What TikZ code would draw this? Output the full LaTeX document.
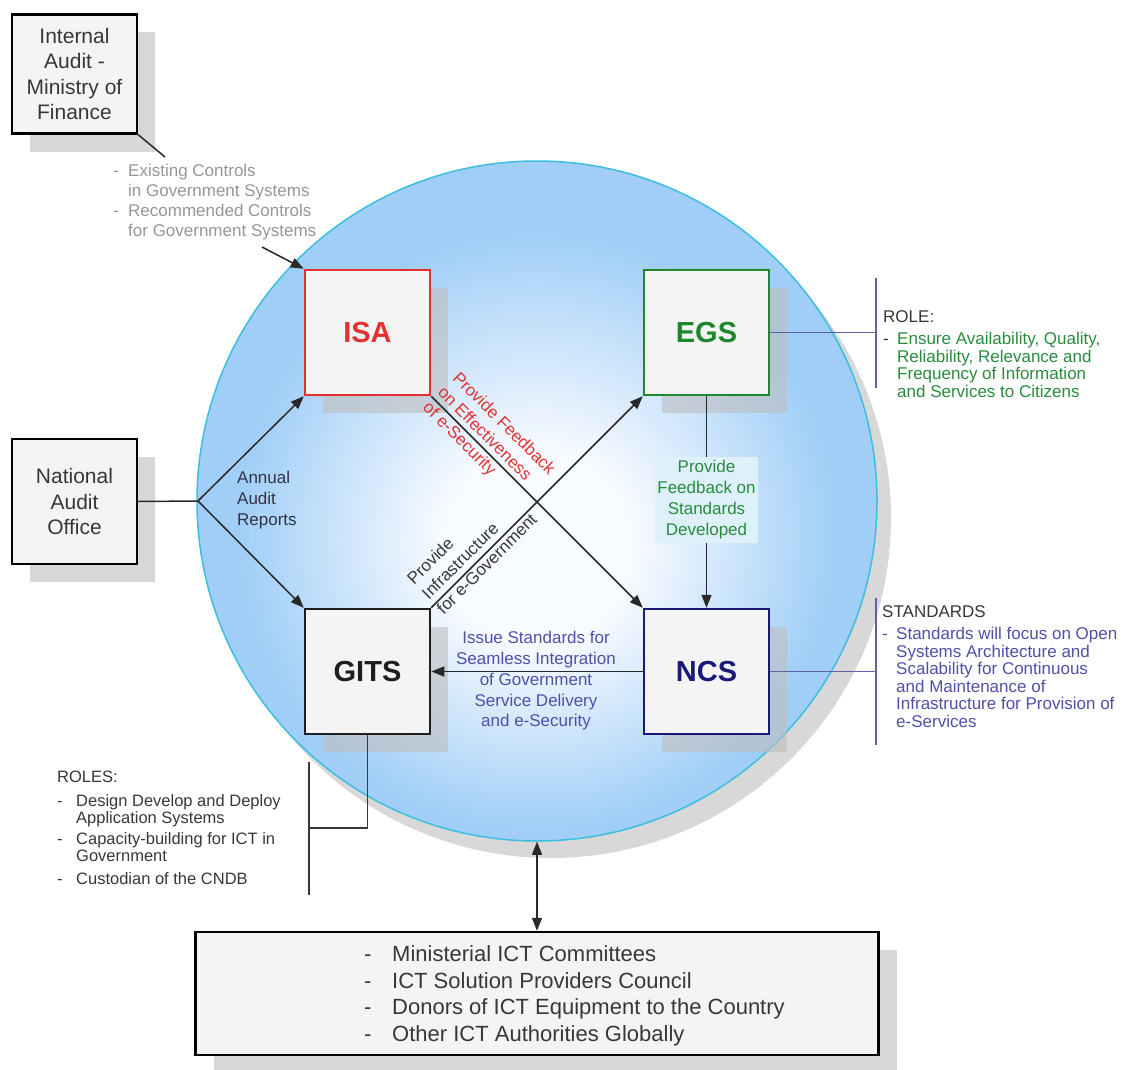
\documentclass[tikz,border=0pt]{standalone}
\usepackage{fontspec}
\setmainfont{Liberation Sans}
\usepackage{array}
\usetikzlibrary{arrows.meta,shadows}

\definecolor{boxfill}{RGB}{244,244,244}
\definecolor{isared}{RGB}{228,48,48}
\definecolor{egsgreen}{RGB}{30,135,45}
\definecolor{ncsblue}{RGB}{25,25,120}
\definecolor{gitsblack}{RGB}{30,30,30}
\definecolor{conn}{RGB}{40,40,40}
\definecolor{brpurple}{RGB}{95,95,165}
\definecolor{graytext}{RGB}{150,150,150}
\definecolor{greentext}{RGB}{40,140,60}
\definecolor{bluetext}{RGB}{80,80,170}
\definecolor{redtext}{RGB}{225,50,50}
\definecolor{darktext}{RGB}{50,50,70}
\definecolor{notedark}{RGB}{55,55,55}
\definecolor{circedge}{RGB}{60,190,225}
\definecolor{cc0}{RGB}{248,251,255}
\definecolor{cc1}{RGB}{160,206,247}
\definecolor{shadowgray}{RGB}{190,190,190}
\definecolor{fbfill}{RGB}{222,241,251}

\newcommand{\dsh}[1]{\makebox[#1][l]{-}}

\pgfdeclareradialshading{bluecirc}{\pgfpoint{0bp}{-4bp}}{color(0bp)=(cc0); color(7bp)=(cc0); color(22bp)=(cc1); color(50bp)=(cc1)}

\begin{document}
\begin{tikzpicture}[x=1pt,y=-1pt,
  arr/.style={-{Triangle[length=13pt,width=10pt]}},
  darr/.style={{Triangle[length=13pt,width=10pt]}-{Triangle[length=13pt,width=10pt]}},
  conline/.style={draw=conn, line width=1.5pt},
  brline/.style={draw=brpurple, line width=1.5pt},
  shadowed/.style={drop shadow={shadow xshift=18pt, shadow yshift=-18pt, fill=shadowgray, opacity=0.6}},
  sqbox/.style={draw, line width=2.5pt, fill=boxfill, minimum width=125pt, minimum height=125pt, inner sep=0pt, shadowed},
  title/.style={font=\fontsize{29}{32}\selectfont\bfseries},
  lbl/.style={font=\fontsize{17}{21}\selectfont, inner sep=0pt},
  note/.style={font=\fontsize{17}{17.5}\selectfont, inner sep=0pt, anchor=north west}
]
\useasboundingbox (0,0) rectangle (1137,1070);

% big circle
\node[circle, minimum size=680pt, inner sep=0pt, draw=circedge, line width=1.5pt,
      shading=bluecirc, drop shadow={shadow xshift=14pt, shadow yshift=-17pt, fill=shadowgray, opacity=0.6}]
      (circ) at (537,501) {};

% boxes
\node[sqbox, minimum height=119pt, align=center, font=\fontsize{21}{25.5}\selectfont, text=notedark]
   (ia) at (74.5,74) {Internal\\Audit -\\Ministry of\\Finance};
\node[sqbox, align=center, font=\fontsize{21}{25.5}\selectfont, text=notedark]
   (nao) at (74.5,501.5) {National\\Audit\\Office};
\node[sqbox, draw=isared, title, text=isared] (isa) at (367.5,332.5) {ISA};
\node[sqbox, draw=egsgreen, title, text=egsgreen] (egs) at (706.5,332.5) {EGS};
\node[sqbox, draw=gitsblack, title, text=gitsblack] (gits) at (367.5,671.5) {GITS};
\node[sqbox, draw=ncsblue, title, text=ncsblue] (ncs) at (706.5,671.5) {NCS};
\node[draw, line width=2.5pt, fill=boxfill, minimum width=683pt, minimum height=123pt, inner sep=0pt, shadowed]
   (bottom) at (537,993.5) {};

% internal audit callout
\coordinate (iaend) at (165,157);
\coordinate (ctrlend) at (262,247);
\draw[conline] (ia.south east) -- (iaend);
\node[inner sep=0pt, anchor=north west, font=\fontsize{17}{20}\selectfont, text=graytext] (ctrl) at (113,162)
  {\begin{tabular}{@{}l@{}l@{}}\dsh{15pt}&Existing Controls\\&in Government Systems\\\dsh{15pt}&Recommended Controls\\&for Government Systems\end{tabular}};
\draw[conline, arr] (ctrlend) -- (isa.north west);

% national audit office fork
\coordinate (fork) at (198,501);
\draw[conline] (nao.east) -- (fork);
\draw[conline, arr] (fork) -- (isa.south west);
\draw[conline, arr] (fork) -- (gits.north west);
\node[lbl, anchor=west, align=left, text=darktext] (annual) at (237,500) {Annual\\Audit\\Reports};

% diagonals
\draw[conline, arr] (isa.south east) -- (ncs.north west);
\node[lbl, rotate=-45, anchor=west, align=left, text=redtext] (fbsec) at (440,390.6)
  {Provide Feedback\\on Effectiveness\\of e-Security};
\draw[conline, arr] (gits.north east) -- (egs.south west);
\node[lbl, rotate=45, anchor=west, align=left, text=notedark] (infra) at (424.5,596.1)
  {Provide\\Infrastructure\\for e-Government};

% EGS -> NCS
\node[lbl, fill=fbfill, minimum width=103pt, minimum height=86pt, align=center, text=greentext] (fb) at (706.5,500)
  {Provide\\Feedback on\\Standards\\Developed};
\draw[conline] (egs.south) -- (fb.north);
\draw[conline, arr] (fb.south) -- (ncs.north);

% NCS -> GITS
\draw[conline, arr] (ncs.west) -- (gits.east);
\node[lbl, font=\fontsize{17}{20.75}\selectfont, align=center, text=bluetext] (issue) at (536,681)
  {Issue Standards for\\Seamless Integration\\of Government\\Service Delivery\\and e-Security};

% EGS role bracket
\coordinate (rtop) at (876,278);
\coordinate (rbot) at (876,388);
\draw[brline] (rtop) -- (rbot);
\draw[brline] (egs.east) -- (egs.east -| rtop);
\node[note] (roletxt) at (883,310)
  {\begin{tabular}{@{}>{\color{notedark}}l@{}>{\color{greentext}}l@{}}\multicolumn{2}{@{}l@{}}{\color{notedark}ROLE:}\\[4.5pt]
  \dsh{14pt}&Ensure Availability, Quality,\\&Reliability, Relevance and\\&Frequency of Information\\&and Services to Citizens\end{tabular}};

% NCS standards bracket
\coordinate (stop) at (876,598);
\coordinate (sbot) at (876,745);
\draw[brline] (stop) -- (sbot);
\draw[brline] (ncs.east) -- (ncs.east -| stop);
\node[note] (stdtxt) at (882,605)
  {\begin{tabular}{@{}>{\color{bluetext}}l@{}>{\color{bluetext}}l@{}}\multicolumn{2}{@{}l@{}}{\color{notedark}STANDARDS}\\[4.5pt]
  \dsh{14pt}&Standards will focus on Open\\&Systems Architecture and\\&Scalability for Continuous\\&and Maintenance of\\&Infrastructure for Provision of\\&e-Services\end{tabular}};

% GITS roles bracket
\coordinate (gtop) at (309,762);
\coordinate (gbot) at (309,895);
\coordinate (gmid) at (309,828);
\draw[conline, draw=notedark] (gtop) -- (gbot);
\draw[conline, draw=notedark] (gits.south) |- (gmid);
\node[note, font=\fontsize{16.5}{16.5}\selectfont] (rolestxt) at (57,770.5)
  {\begin{tabular}{@{}>{\color{notedark}}l@{}>{\color{notedark}}l@{}}\multicolumn{2}{@{}l@{}}{\color{notedark}ROLES:}\\[7pt]
  \dsh{19pt}&Design Develop and Deploy\\&Application Systems\\[5pt]
  \dsh{19pt}&Capacity-building for ICT in\\&Government\\[6pt]
  \dsh{19pt}&Custodian of the CNDB\end{tabular}};

% circle <-> bottom box
\draw[conline, darr] (circ.south) -- (bottom.north);
\node[note, font=\fontsize{22}{26.5}\selectfont] (bottxt) at (364,943)
  {\begin{tabular}{@{}>{\color{notedark}}l@{}>{\color{notedark}}l@{}}
  \dsh{28pt}&Ministerial ICT Committees\\\dsh{28pt}&ICT Solution Providers Council\\\dsh{28pt}&Donors of ICT Equipment to the Country\\\dsh{28pt}&Other ICT Authorities Globally\end{tabular}};
\end{tikzpicture}
\end{document}
